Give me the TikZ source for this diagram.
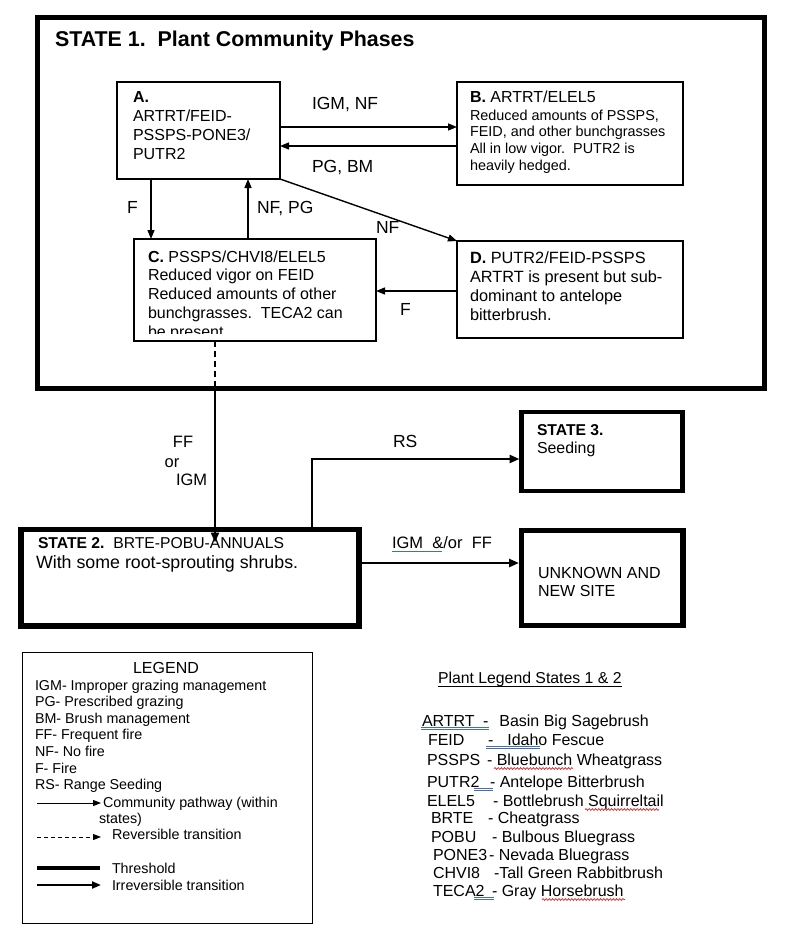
\documentclass[tikz,border=0pt]{standalone}
\usepackage{fontspec}
\setmainfont{Liberation Sans}
\usetikzlibrary{arrows.meta,calc,decorations.pathmorphing}
\definecolor{spellblue}{RGB}{70,110,180}
\definecolor{spellred}{RGB}{215,40,40}
\newcommand\fsz[2]{\fontsize{#1pt}{#2pt}\selectfont}
\begin{document}
\begin{tikzpicture}[x=1pt,y=-1pt,
  every node/.style={inner sep=0pt, outer sep=0pt},
  phase/.style={draw, line width=1.5pt, anchor=north west},
  statebox/.style={draw, line width=5pt, anchor=north west},
  txt/.style={anchor=north west, align=left},
  lab/.style={anchor=base west, font={\fsz{17.5}{20}}},
  pw/.style={line width=1.4pt, -{Triangle[length=9pt,width=7pt]}},
  tr/.style={line width=2.5pt, -{Triangle[length=10pt,width=8pt]}},
  pl/.style={anchor=base west, font={\fsz{16}{19}}},
  lg/.style={anchor=base west, font={\fsz{14.3}{16.6}}},
  sblue/.style={spellblue, line width=0.8pt},
  sred/.style={spellred, line width=0.7pt, decorate, decoration={snake, segment length=3.2pt, amplitude=0.9pt}}
]
\fill[white] (0,0) rectangle (800,952);
\useasboundingbox (0,0) rectangle (800,952);

% ---------- STATE 1 ----------
\node[statebox, minimum width=727pt, minimum height=371pt] (st1) at (37.5,17.5) {};
\node[anchor=base west, font={\fsz{21.4}{24}\bfseries}] (t1) at (55,47) {STATE 1.\ \ Plant Community Phases};

\node[phase, minimum width=163pt, minimum height=97pt] (A) at (117,82) {};
\node[phase, minimum width=226pt, minimum height=103pt] (B) at (457,82) {};
\node[phase, minimum width=242pt, minimum height=102pt] (C) at (134,239) {};
\node[phase, minimum width=226pt, minimum height=97pt] (D) at (457,241) {};

\node[txt, font={\fsz{16}{19}}] (At) at (133,91.5) {\textbf{A.}\\ARTRT/FEID-\\PSSPS-PONE3/\\PUTR2};
\node[anchor=base west, font={\fsz{16}{19}}] (Bh) at (470,103) {\textbf{B.} ARTRT/ELEL5};
\node[txt, font={\fsz{14.4}{16.7}}] (Bt) at (470,109.6) {Reduced amounts of PSSPS,\\FEID, and other bunchgrasses\\All in low vigor.\ \ PUTR2 is\\heavily hedged.};
\begin{scope}
\clip (135,240) rectangle (375,333.5);
\node[txt, font={\fsz{16}{18.9}}] (Ct) at (148,250.5) {\textbf{C.} PSSPS/CHVI8/ELEL5\\Reduced vigor on FEID\\Reduced amounts of other\\bunchgrasses.\ \ TECA2 can\\be present};
\end{scope}
\node[txt, font={\fsz{16.3}{19}}] (Dt) at (470,251.5) {\textbf{D.} PUTR2/FEID-PSSPS\\ARTRT is present but sub-\\dominant to antelope\\bitterbrush.};

% helper coordinates
\coordinate (yab) at (0,127);
\coordinate (yba) at (0,146);
\coordinate (xac) at (151,0);
\coordinate (xca) at (248,0);
\coordinate (ydc) at (0,291);
\coordinate (xtr) at (215,0);
\coordinate (rsc) at (312,459);
\coordinate (yig) at (0,563);

\draw[pw] (A.east |- yab) -- (B.west |- yab);
\draw[pw] (B.west |- yba) -- (A.east |- yba);
\draw[pw] (A.south -| xac) -- (C.north -| xac);
\draw[pw] (C.north -| xca) -- (A.south -| xca);
\draw[pw] (A.south east) -- (D.north west);
\draw[pw] (D.west |- ydc) -- (C.east |- ydc);

\node[lab] (lIGMNF) at (312,110) {IGM, NF};
\node[lab] (lPGBM) at (312,172) {PG, BM};
\node[lab] (lF1) at (127,213) {F};
\node[lab] (lNFPG) at (257,213) {NF, PG};
\node[lab] (lNF) at (376,233) {NF};
\node[lab] (lF2) at (400,315) {F};

% ---------- STATES 2, 3, unknown ----------
\node[statebox, line width=5.5pt, minimum width=338pt, minimum height=96.5pt] (s2) at (21,529.5) {};
\node[statebox, line width=4.5pt, minimum width=161pt, minimum height=79pt] (s3) at (521.5,412) {};
\node[statebox, line width=5.5pt, minimum width=161.5pt, minimum height=95pt] (unk) at (521.5,530.5) {};

\node[anchor=base west, font={\fsz{15.7}{19}}] (s2a) at (38,548) {\textbf{STATE 2.}\ \ BRTE-POBU-ANNUALS};
\node[anchor=base west, font={\fsz{17.8}{20}}] (s2b) at (36,568) {With some root-sprouting shrubs.};
\node[anchor=base west, font={\fsz{15.7}{18}\bfseries}] (s3a) at (537,435) {STATE 3.};
\node[anchor=base west, font={\fsz{15.9}{18}}] (s3b) at (537,453) {Seeding};
\node[txt, font={\fsz{16}{18}}] (unkt) at (538,567.5) {UNKNOWN AND\\NEW SITE};

\draw[line width=1.4pt, dash pattern=on 6pt off 4pt] (C.south -| xtr) -- (st1.south -| xtr);
\draw[tr] (st1.south -| xtr) -- ($(s2.north -| xtr)+(0,13)$);
\draw[tr, shorten >=2pt] (s2.north -| rsc) |- (s3.west |- rsc);
\draw[tr, shorten >=2.5pt] (s2.east |- yig) -- (unk.west |- yig);

\node[lab, font={\fsz{16.5}{19}}, anchor=base] (lFF) at (183,447) {FF};
\node[lab, font={\fsz{16.5}{19}}, anchor=base] (lor) at (172,467) {or};
\node[lab, font={\fsz{16.5}{19}}] (lIGM) at (176,485) {IGM};
\node[lab] (lRS) at (393,447) {RS};
\node[lab, font={\fsz{16.5}{19}}] (lIGM2) at (392,548) {IGM\ \ \&/or\ \ FF};
\draw[spellblue, line width=1pt] ($(lIGM2.base west)+(0,3.5)$) -- ++(50,0);

% ---------- LEGEND ----------
\node[draw, line width=1pt, anchor=north west, minimum width=290pt, minimum height=271pt] (leg) at (22,652) {};
\node[anchor=base, font={\fsz{16}{19}}] (legT) at (166,673) {LEGEND};
\node[txt, font={\fsz{14.3}{16.6}}] (legL) at (35,679.7) {IGM- Improper grazing management\\PG- Prescribed grazing\\BM- Brush management\\FF- Frequent fire\\NF- No fire\\F- Fire\\RS- Range Seeding};
\coordinate (la1) at (37,803);  \coordinate (lb1) at (101,803);
\coordinate (la2) at (37,837);  \coordinate (lb2) at (101,837);
\coordinate (la3) at (37,868);  \coordinate (lb3) at (100,868);
\coordinate (la4) at (37,885);  \coordinate (lb4) at (101,885);
\draw[line width=1pt, -{Triangle[length=8pt,width=6pt]}] (la1) -- (lb1);
\draw[line width=1pt, dash pattern=on 4pt off 3pt, -{Triangle[length=8pt,width=6pt]}] (la2) -- (lb2);
\draw[line width=3.5pt] (la3) -- (lb3);
\draw[line width=2pt, -{Triangle[length=9pt,width=7pt]}] (la4) -- (lb4);
\node[lg] (lg1) at (103,807) {Community pathway (within};
\node[lg] (lg1b) at (99,823) {states)};
\node[lg] (lg2) at (112,839) {Reversible transition};
\node[lg] (lg3) at (112,873) {Threshold};
\node[lg] (lg4) at (112,890) {Irreversible transition};

% ---------- PLANT LEGEND ----------
\node[anchor=base west, font={\fsz{15.8}{19}}] (plt) at (438,683) {Plant Legend States 1 \& 2};
\draw[line width=1pt] ($(plt.base west)+(0,3)$) -- ($(plt.base east)+(0,3)$);

\node[pl] (p1) at (422,726) {ARTRT};  \node[pl] (p1d) at (483,726) {-\hspace{11pt}Basin Big Sagebrush};
\node[pl] (p2) at (428,745) {FEID};   \node[pl] (p2d) at (488,745) {-\hspace{14pt}Idaho Fescue};
\node[pl] (p3) at (427,765) {PSSPS};  \node[pl] (p3d) at (487,765) {- Bluebunch Wheatgrass};
\node[pl] (p4) at (427,787) {PUTR2};  \node[pl] (p4d) at (490,787) {- Antelope Bitterbrush};
\node[pl] (p5) at (427,806) {ELEL5};  \node[pl] (p5d) at (493,806) {- Bottlebrush Squirreltail};
\node[pl] (p6) at (431,823) {BRTE};   \node[pl] (p6d) at (488,823) {- Cheatgrass};
\node[pl] (p7) at (431,842) {POBU};   \node[pl] (p7d) at (492,842) {- Bulbous Bluegrass};
\node[pl] (p8) at (433,860) {PONE3};  \node[pl] (p8d) at (489,860) {- Nevada Bluegrass};
\node[pl] (p9) at (433,878) {CHVI8};  \node[pl] (p9d) at (494,878) {-Tall Green Rabbitbrush};
\node[pl] (p10) at (433,896) {TECA2}; \node[pl] (p10d) at (492,896) {- Gray Horsebrush};

% spell-check marks as printed
\draw[sblue] (421,727.5) -- (489,727.5);  \draw[sblue] (421,729.5) -- (489,729.5);
\draw[sblue] (486,746.5) -- (540,746.5);  \draw[sblue] (486,748.5) -- (540,748.5);
\draw[sblue] (474,788.5) -- (493,788.5);  \draw[sblue] (474,790.5) -- (493,790.5);
\draw[sblue] (474,897.5) -- (494,897.5);  \draw[sblue] (474,899.5) -- (494,899.5);
\draw[sred] (494,768.5) -- (573,768.5);
\draw[sred] (585,809.5) -- (659,809.5);
\draw[sred] (542,899.5) -- (625,899.5);
\end{tikzpicture}
\end{document}
